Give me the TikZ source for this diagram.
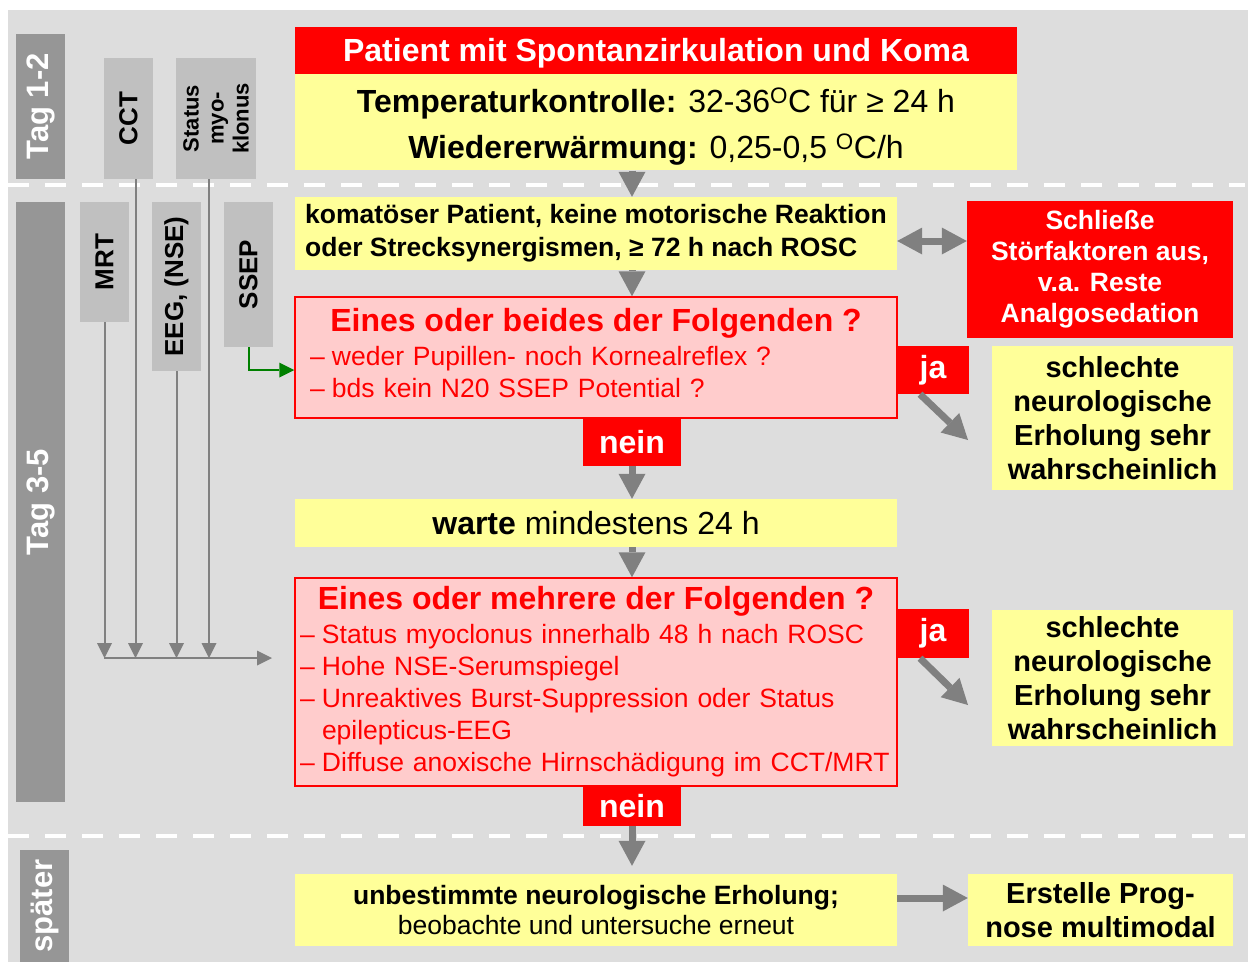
\documentclass[tikz,border=0pt]{standalone}
\usepackage{fontspec}
\setmainfont{Liberation Sans}
\usetikzlibrary{positioning,arrows.meta}

\definecolor{backgray}{HTML}{DDDDDD}
\definecolor{phasegray}{HTML}{969696}
\definecolor{examgray}{HTML}{C0C0C0}
\definecolor{arrowgray}{HTML}{808080}
\definecolor{noteyellow}{HTML}{FFFF99}
\definecolor{alarmred}{HTML}{FF0000}
\definecolor{querypink}{HTML}{FFCCCC}
\definecolor{feedgreen}{HTML}{008000}

\newcommand{\fsize}[2]{\fontsize{#1}{#2}\selectfont}
\newcommand{\dashitem}[1]{\par\hangindent=22pt\hangafter=1\noindent\makebox[22pt][l]{–}#1}
\newcommand{\lowerby}[2]{\raisebox{-#1}[\height][\depth]{#2}}

\begin{document}
\begin{tikzpicture}[x=1pt, y=-1pt,
        phase/.style={
                rectangle,
                fill=phasegray,
                text=white,
                font=\fsize{31}{36}\bfseries,
                rotate=90,
                minimum height=49pt,
                inner sep=0pt
            },
        exam/.style={
                rectangle,
                fill=examgray,
                font=\fsize{26}{30}\bfseries,
                rotate=90,
                inner sep=0pt
            },
        alarm/.style={
                rectangle,
                fill=alarmred,
                text=white,
                font=\fsize{32}{38}\bfseries,
                inner sep=0pt
            },
        note/.style={
                rectangle,
                fill=noteyellow,
                align=center,
                inner sep=0pt
            },
        query/.style={
                rectangle,
                draw=alarmred,
                fill=querypink,
                text=alarmred,
                line width=1.5pt,
                font=\fsize{26.5}{32},
                minimum width=602pt,
                inner ysep=0pt
            },
        flow/.style={
                draw=arrowgray,
                line width=7pt
            },
        feed/.style={
                draw=arrowgray,
                line width=2pt,
                -{Triangle[width=15pt,length=15pt,line width=0pt]}
            },
        divider/.style={
                draw=white,
                line width=4pt,
                dash pattern=on 21pt off 16pt
            },
        >={Triangle[width=27pt,length=25pt,line width=0pt]}
    ]
    \useasboundingbox (0,0) rectangle (1248,962);
    \fill[backgray] (8,10) rectangle (1248,962);
    \draw[divider] (8,185) -- (1245,185);
    \draw[divider] (8,836) -- (1245,836);

    \node[phase, minimum width=145pt] (tag12) at (40.5,106.5) {Tag 1-2};
    \node[phase, minimum width=600pt] (tag35) at (40.5,502) {Tag 3-5};
    \node[phase, minimum width=112pt] (spaeter) at (44.5,906) {später};

    \node[exam, minimum width=121pt, minimum height=49pt] (cct) at (128.5,118.5) {CCT};
    \node[exam, minimum width=121pt, minimum height=80pt, align=center, font=\fsize{22}{25}\bfseries] (myo) at (216,118.5) {Status\\myo-\\klonus};
    \node[exam, minimum width=120pt, minimum height=49pt] (mrt) at (104.5,262) {MRT};
    \node[exam, minimum width=169pt, minimum height=49pt] (eeg) at (176.5,286.5) {EEG, (NSE)};
    \node[exam, minimum width=145pt, minimum height=49pt] (ssep) at (248.5,274.5) {SSEP};

    \node[alarm, minimum width=722pt, minimum height=47pt] (koma) at (656,50.5) {\lowerby{3pt}{Patient mit Spontanzirkulation und Koma}};
    \node[note, minimum width=722pt, minimum height=96pt, font=\fsize{32}{46}, below=0pt of koma] (temp) {\lowerby{4pt}{\textbf{Temperaturkontrolle:} 32-36\textsuperscript{O}C für ≥ 24 h}\\\lowerby{4pt}{\textbf{Wiedererwärmung:} 0,25-0,5 \textsuperscript{O}C/h}};
    \node[note, minimum width=602pt, minimum height=73pt, align=left, font=\fsize{26.5}{33}\bfseries] (komatoes) at (596,233.5) {komatöser Patient, keine motorische Reaktion\\oder Strecksynergismen, ≥ 72 h nach ROSC};
    \node[alarm, minimum width=266pt, minimum height=137pt, align=center, font=\fsize{26.5}{31}\bfseries] (stoer) at (1100,269.5) {Schließe\\Störfaktoren aus,\\v.a. Reste\\Analgosedation};
    \node[query, text width=572pt, inner xsep=15pt, minimum height=121pt] (query1) at (596,357.5) {{\centering\fsize{32}{38}\bfseries Eines oder beides der Folgenden ?\par}\vspace{2pt}\raggedright
        \dashitem{weder Pupillen- noch Kornealreflex ?}
        \dashitem{bds kein N20 SSEP Potential ?}\par\vspace{8pt}};
    \node[alarm, minimum width=72pt, minimum height=48pt] (ja1) at (933,370) {ja};
    \node[alarm, minimum width=98pt, minimum height=48pt] (nein1) at (632,442) {nein};
    \node[note, minimum width=241pt, minimum height=144pt, font=\fsize{29}{34}\bfseries] (poor1) at (1112.5,418) {schlechte\\neurologische\\Erholung sehr\\wahrscheinlich};
    \node[note, minimum width=602pt, minimum height=48pt, font=\fsize{32}{38}] (warte) at (596,523) {\textbf{warte} mindestens 24 h};
    \node[query, text width=592pt, inner xsep=5pt, minimum height=208pt] (query2) at (596,682) {{\centering\fsize{32}{38}\bfseries Eines oder mehrere der Folgenden ?\par}\vspace{2pt}\raggedright
        \dashitem{Status myoclonus innerhalb 48 h nach ROSC}
        \dashitem{Hohe NSE-Serumspiegel}
        \dashitem{Unreaktives Burst-Suppression oder Status\newline epilepticus-EEG}
        \dashitem{Diffuse anoxische Hirnschädigung im CCT/MRT}};
    \node[alarm, minimum width=72pt, minimum height=49pt] (ja2) at (933,633.5) {ja};
    \node[alarm, minimum width=98pt, minimum height=40pt] (nein2) at (632,806) {nein};
    \node[note, minimum width=241pt, minimum height=136pt, font=\fsize{29}{34}\bfseries] (poor2) at (1112.5,678) {schlechte\\neurologische\\Erholung sehr\\wahrscheinlich};
    \node[note, minimum width=602pt, minimum height=72pt, font=\fsize{26.5}{30}] (unbest) at (596,910) {\textbf{unbestimmte neurologische Erholung;}\\beobachte und untersuche erneut};
    \node[note, minimum width=265pt, minimum height=72pt, font=\fsize{29}{34}\bfseries] (multi) at (1100.5,910) {Erstelle Prog-\\nose multimodal};

    \coordinate (collect) at (104,658);
    \coordinate (collectend) at (272,658);
    \coordinate (poor1tip) at (968,440);
    \coordinate (poor2tip) at (968,705);

    \draw[feed] ([xshift=7pt]cct.west) -- ([xshift=7pt]cct.west |- collect);
    \draw[feed] ([xshift=-7pt]myo.west) -- ([xshift=-7pt]myo.west |- collect);
    \draw[feed] (mrt.west) -- (mrt.west |- collect);
    \draw[feed] (eeg.west) -- (eeg.west |- collect);
    \draw[feed] (collect) -- (collectend);
    \draw[feed, draw=feedgreen] (ssep.west) |- ([yshift=-12.5pt]query1.west);

    \draw[flow,->] (temp.south -| nein1) -- (komatoes.north -| nein1);
    \draw[flow,->] (komatoes.south -| nein1) -- (query1.north -| nein1);
    \draw[flow,->] (nein1) -- (warte.north -| nein1);
    \draw[flow,->] (warte.south -| nein1) -- (query2.north -| nein1);
    \draw[flow,->, shorten >=8pt] (nein2) -- (unbest.north -| nein2);
    \draw[flow,<->] ([yshift=-7.5pt]komatoes.east) -- ([yshift=-7.5pt]komatoes.east -| stoer.west);
    \draw[flow,->] ([yshift=12pt]unbest.east) -- ([yshift=12pt]unbest.east -| multi.west);
    \draw[flow,->] ([xshift=-13pt]ja1.south) -- (poor1tip);
    \draw[flow,->] ([xshift=-13pt]ja2.south) -- (poor2tip);
\end{tikzpicture}
\end{document}
